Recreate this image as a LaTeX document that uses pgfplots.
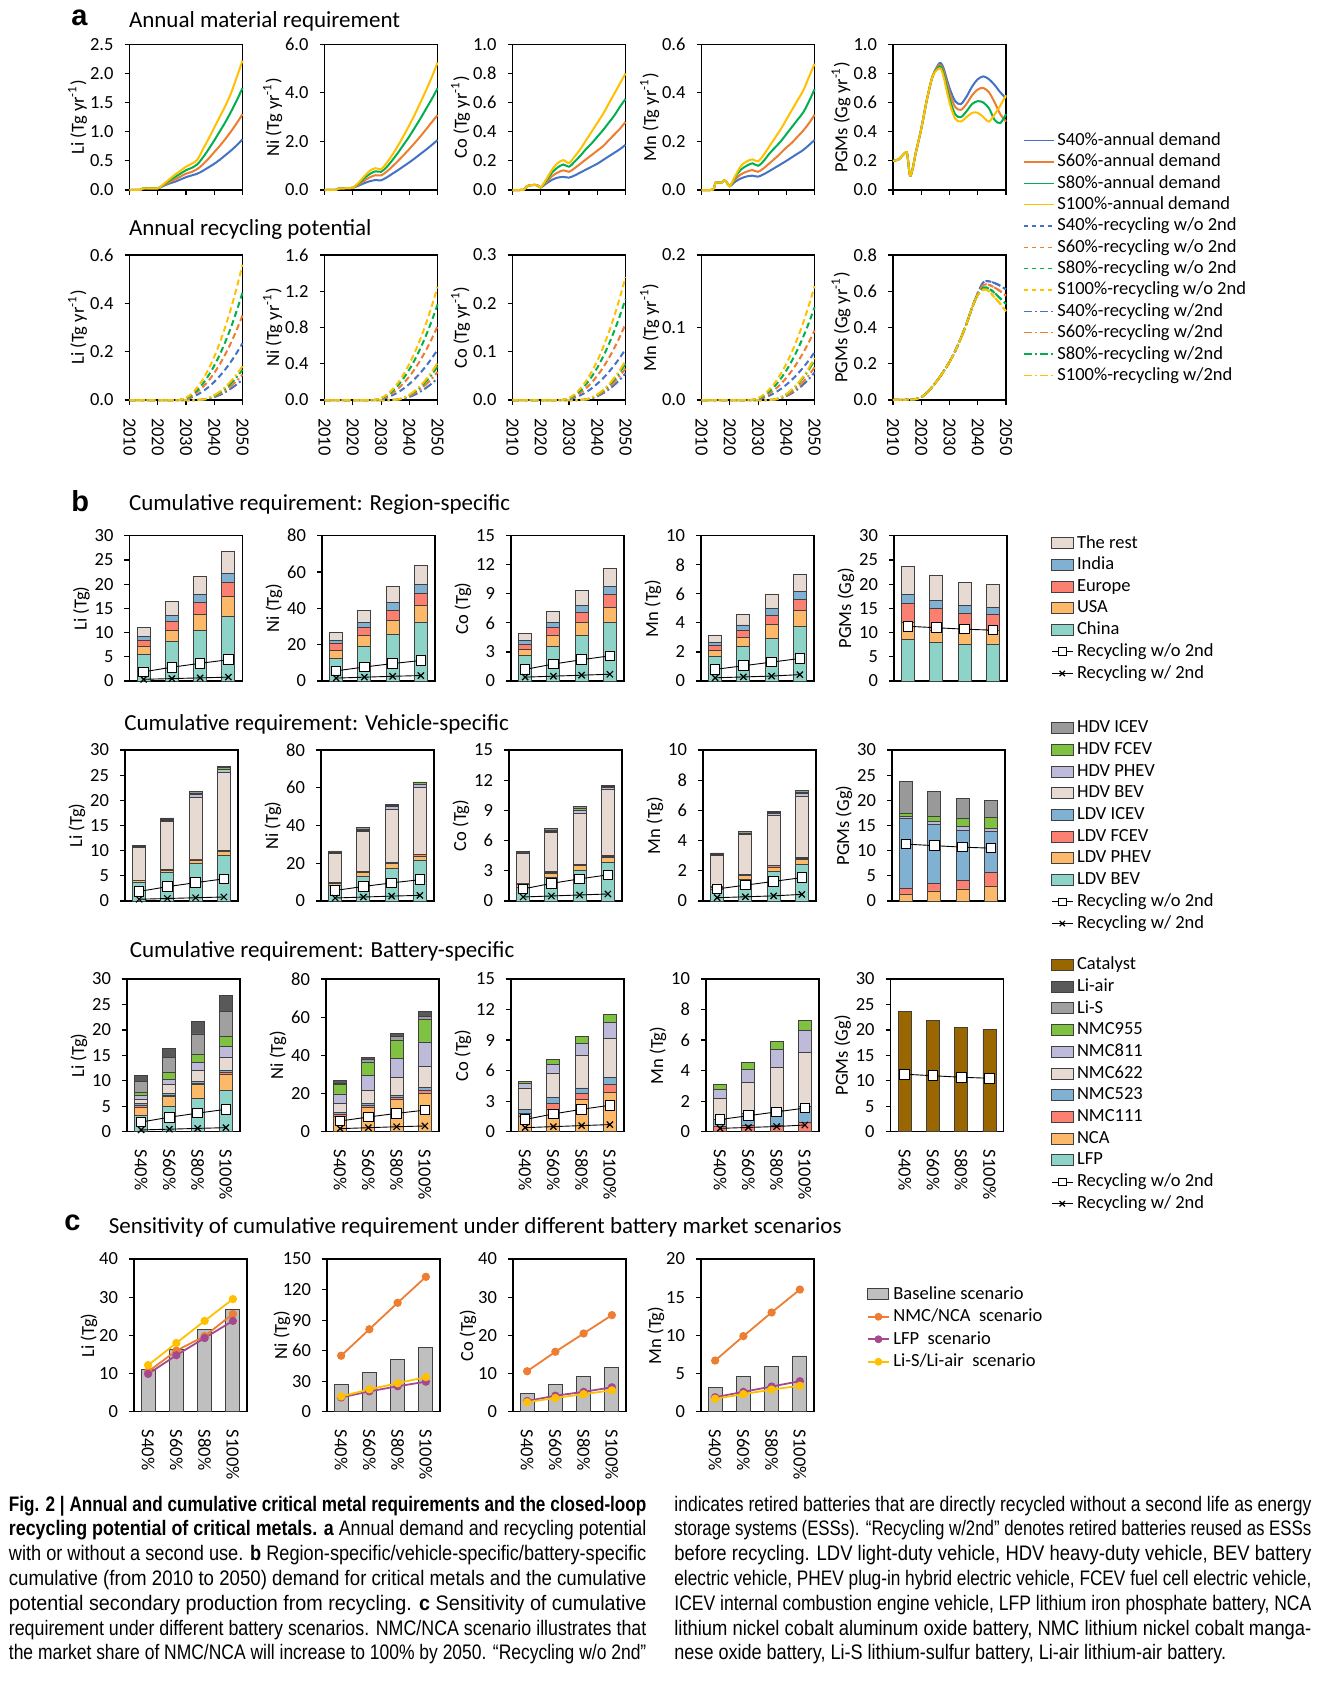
\documentclass[border=0pt]{standalone}
\usepackage{fontspec}
\setmainfont{Carlito}
\newfontfamily\capfont[FakeStretch=0.8]{Liberation Sans}
\newfontfamily\letfont{Liberation Sans}
\usepackage{graphicx}
\usepackage{pgfplots}
\usepackage{pgfplotstable}
\pgfplotsset{compat=1.18}

\definecolor{ablue}{HTML}{4472C4}
\definecolor{aorange}{HTML}{ED7D31}
\definecolor{agreen}{HTML}{00B050}
\definecolor{ayellow}{HTML}{FFC000}
\definecolor{edge}{HTML}{404040}
\definecolor{cchina}{HTML}{8DD3C7}
\definecolor{cusa}{HTML}{FDB96A}
\definecolor{ceurope}{HTML}{FB8072}
\definecolor{cindia}{HTML}{80B1D3}
\definecolor{crest}{HTML}{E7DAD3}
\colorlet{clbev}{cchina}\colorlet{clphev}{cusa}\colorlet{clfcev}{ceurope}\colorlet{clicev}{cindia}
\colorlet{chbev}{crest}
\definecolor{chphev}{HTML}{BEBADA}
\definecolor{chfcev}{HTML}{7FC241}
\definecolor{chicev}{HTML}{999999}
\colorlet{clfp}{cchina}\colorlet{cnca}{cusa}\colorlet{cn111}{ceurope}\colorlet{cn523}{cindia}
\colorlet{cn622}{crest}\colorlet{cn811}{chphev}\colorlet{cn955}{chfcev}
\definecolor{clis}{HTML}{A0A0A0}
\definecolor{cliair}{HTML}{595959}
\definecolor{ccatalyst}{HTML}{996600}
\definecolor{cbase}{HTML}{BFBFBF}
\definecolor{cpurple}{HTML}{A5498F}

\newcommand\tf{\fontsize{9.25}{11}\selectfont}
\newcommand\ttl{\fontsize{11.5}{13}\selectfont}
\newcommand\cf{\capfont\fontsize{10.5}{12}\selectfont}
\newsavebox\capbox
\newcommand\fitline[2]{\sbox\capbox{#2}\pgfmathsetmacro\capr{#1/\the\wd\capbox}\scalebox{\capr}[1]{\usebox\capbox}}

% ---------- annual demand (Tg/yr, Gg/yr for PGMs)
\pgfplotstableread{
year s40 s60 s80 s100
2010 0 0 0 0
2014 0.005 0.005 0.005 0.005
2015 0.03 0.03 0.03 0.03
2020 0.03 0.03 0.03 0.03
2022 0.07 0.08 0.09 0.10
2024 0.11 0.13 0.16 0.18
2026 0.14 0.18 0.22 0.26
2028 0.18 0.23 0.28 0.33
2030 0.22 0.28 0.34 0.40
2032 0.25 0.31 0.38 0.45
2034 0.28 0.36 0.44 0.52
2036 0.33 0.44 0.56 0.70
2038 0.39 0.54 0.70 0.88
2040 0.45 0.65 0.85 1.07
2042 0.52 0.76 1.01 1.26
2044 0.60 0.88 1.17 1.45
2046 0.68 1.01 1.35 1.67
2048 0.77 1.15 1.54 1.94
2050 0.87 1.30 1.75 2.22
}\LiA
\pgfplotstableread{
year s40 s60 s80 s100
2010 0 0 0 0
2014 0.01 0.01 0.01 0.01
2015 0.06 0.06 0.06 0.06
2019 0.08 0.08 0.08 0.08
2020 0.09 0.09 0.09 0.09
2022 0.18 0.22 0.26 0.30
2024 0.28 0.38 0.48 0.56
2026 0.36 0.52 0.66 0.79
2028 0.41 0.61 0.77 0.90
2030 0.40 0.60 0.75 0.86
2032 0.52 0.76 0.95 1.12
2034 0.67 0.97 1.23 1.45
2036 0.82 1.20 1.54 1.83
2038 0.98 1.44 1.87 2.24
2040 1.14 1.69 2.21 2.67
2042 1.31 1.95 2.58 3.13
2044 1.49 2.22 2.96 3.62
2046 1.67 2.51 3.36 4.13
2048 1.86 2.80 3.76 4.66
2050 2.06 3.09 4.19 5.25
}\NiA
\pgfplotstableread{
year s40 s60 s80 s100
2010 0 0 0 0
2014 0.002 0.002 0.002 0.002
2015 0.025 0.025 0.025 0.025
2016 0.032 0.032 0.032 0.032
2018 0.035 0.035 0.035 0.035
2019 0.03 0.03 0.03 0.03
2020 0.018 0.018 0.018 0.018
2022 0.045 0.055 0.065 0.075
2024 0.070 0.095 0.120 0.140
2026 0.085 0.120 0.155 0.185
2028 0.090 0.135 0.175 0.205
2030 0.085 0.125 0.160 0.185
2032 0.100 0.150 0.195 0.230
2034 0.120 0.180 0.235 0.280
2036 0.140 0.210 0.280 0.340
2038 0.160 0.240 0.320 0.400
2040 0.180 0.270 0.365 0.460
2042 0.205 0.300 0.410 0.520
2044 0.230 0.340 0.460 0.590
2046 0.255 0.380 0.510 0.660
2048 0.280 0.420 0.570 0.730
2050 0.310 0.467 0.625 0.800
}\CoA
\pgfplotstableread{
year s40 s60 s80 s100
2010 0 0 0 0
2014 0.002 0.002 0.002 0.002
2015 0.03 0.03 0.03 0.03
2017 0.03 0.03 0.03 0.03
2018 0.04 0.04 0.04 0.04
2019 0.03 0.03 0.03 0.03
2020 0.016 0.016 0.016 0.016
2022 0.035 0.045 0.055 0.060
2024 0.048 0.065 0.085 0.100
2026 0.056 0.076 0.100 0.118
2028 0.059 0.082 0.110 0.126
2030 0.055 0.075 0.100 0.118
2032 0.065 0.090 0.120 0.145
2034 0.078 0.110 0.150 0.180
2036 0.092 0.130 0.175 0.215
2038 0.106 0.152 0.200 0.250
2040 0.120 0.175 0.230 0.290
2042 0.135 0.195 0.260 0.330
2044 0.150 0.220 0.290 0.370
2046 0.165 0.245 0.320 0.410
2048 0.185 0.275 0.365 0.465
2050 0.206 0.310 0.415 0.520
}\MnA
\pgfplotstableread{
year s40 s60 s80 s100
2010 0.20 0.20 0.20 0.20
2012 0.21 0.21 0.21 0.21
2014 0.25 0.25 0.25 0.25
2015 0.25 0.25 0.25 0.25
2016 0.10 0.10 0.10 0.10
2017 0.15 0.15 0.15 0.15
2018 0.25 0.25 0.25 0.25
2020 0.42 0.42 0.42 0.42
2022 0.62 0.62 0.62 0.62
2024 0.78 0.78 0.78 0.78
2026 0.86 0.85 0.84 0.83
2027 0.87 0.855 0.845 0.83
2028 0.83 0.81 0.79 0.77
2030 0.70 0.67 0.63 0.60
2032 0.61 0.57 0.52 0.49
2034 0.59 0.55 0.50 0.47
2036 0.64 0.59 0.54 0.50
2038 0.71 0.65 0.59 0.53
2040 0.76 0.69 0.61 0.53
2042 0.78 0.70 0.60 0.50
2044 0.76 0.67 0.56 0.47
2046 0.72 0.60 0.48 0.52
2048 0.67 0.52 0.46 0.58
2050 0.63 0.47 0.52 0.65
}\PGA

% ---------- annual recycling: d = w/o 2nd use, w = w/ 2nd use
\pgfplotstableread{
year d40 d60 d80 d100 w40 w60 w80 w100
2010 0 0 0 0 0 0 0 0
2026 0 0 0 0 0 0 0 0
2028 0.0004 0.0007 0.0008 0.001 0 0 0 0
2030 0.004 0.006 0.0076 0.0095 0 0 0 0
2032 0.011 0.016 0.021 0.026 0 0 0 0
2034 0.022 0.033 0.041 0.052 0 0 0 0
2036 0.036 0.054 0.068 0.086 0.0013 0.0016 0.002 0.0022
2038 0.054 0.080 0.102 0.128 0.0053 0.0066 0.0078 0.0088
2040 0.075 0.112 0.142 0.179 0.012 0.0148 0.0176 0.0197
2042 0.100 0.149 0.189 0.238 0.021 0.026 0.031 0.035
2044 0.128 0.191 0.243 0.306 0.033 0.041 0.049 0.055
2046 0.160 0.239 0.303 0.382 0.048 0.059 0.070 0.079
2048 0.196 0.292 0.371 0.467 0.065 0.080 0.096 0.107
2050 0.235 0.35 0.445 0.56 0.085 0.105 0.125 0.14
}\LiR
\pgfplotstableread{
year d40 d60 d80 d100 w40 w60 w80 w100
2010 0 0 0 0 0 0 0 0
2026 0 0 0 0 0 0 0 0
2028 0.001 0.0015 0.002 0.0024 0 0 0 0
2030 0.0094 0.0139 0.018 0.021 0 0 0 0
2032 0.026 0.038 0.050 0.059 0 0 0 0
2034 0.052 0.076 0.098 0.116 0 0 0 0
2036 0.085 0.125 0.161 0.191 0.0037 0.0048 0.0058 0.0064
2038 0.127 0.187 0.242 0.286 0.015 0.019 0.023 0.026
2040 0.177 0.260 0.337 0.399 0.034 0.044 0.052 0.058
2042 0.236 0.346 0.448 0.531 0.060 0.078 0.093 0.103
2044 0.303 0.445 0.576 0.683 0.094 0.121 0.145 0.160
2046 0.379 0.556 0.720 0.853 0.135 0.174 0.208 0.231
2048 0.463 0.680 0.880 1.043 0.184 0.237 0.283 0.314
2050 0.555 0.815 1.055 1.25 0.24 0.31 0.37 0.41
}\NiR
\pgfplotstableread{
year d40 d60 d80 d100 w40 w60 w80 w100
2010 0 0 0 0 0 0 0 0
2026 0 0 0 0 0 0 0 0
2028 0.0002 0.0003 0.0004 0.0005 0 0 0 0
2030 0.0018 0.0027 0.0036 0.0043 0 0 0 0
2032 0.0049 0.0074 0.0098 0.0119 0 0 0 0
2034 0.0098 0.0146 0.0194 0.0236 0 0 0 0
2036 0.016 0.024 0.032 0.0389 0.0009 0.001 0.0012 0.0013
2038 0.024 0.036 0.048 0.0582 0.0034 0.0041 0.0047 0.0051
2040 0.0335 0.050 0.0667 0.081 0.0077 0.0091 0.0105 0.0114
2042 0.0446 0.0667 0.0888 0.108 0.0138 0.0163 0.0188 0.0203
2044 0.0573 0.0857 0.114 0.1387 0.0215 0.0254 0.0293 0.0316
2046 0.0716 0.107 0.1425 0.173 0.0309 0.0366 0.0422 0.0456
2048 0.0876 0.131 0.174 0.212 0.0421 0.0498 0.0574 0.062
2050 0.105 0.157 0.209 0.254 0.055 0.065 0.075 0.081
}\CoR
\pgfplotstableread{
year d40 d60 d80 d100 w40 w60 w80 w100
2010 0 0 0 0 0 0 0 0
2026 0 0 0 0 0 0 0 0
2028 0.0001 0.0002 0.0002 0.0003 0 0 0 0
2030 0.0011 0.0016 0.0022 0.0027 0 0 0 0
2032 0.0031 0.0045 0.006 0.0074 0 0 0 0
2034 0.0061 0.0089 0.0119 0.0146 0 0 0 0
2036 0.0101 0.0147 0.0196 0.024 0.0006 0.0007 0.0009 0.0009
2038 0.0151 0.022 0.0293 0.036 0.0024 0.0028 0.0034 0.0036
2040 0.0211 0.0306 0.0408 0.050 0.0053 0.0063 0.0077 0.0082
2042 0.0281 0.0408 0.0544 0.0667 0.0095 0.0113 0.0138 0.0145
2044 0.036 0.0524 0.0699 0.0857 0.0148 0.0176 0.0215 0.0227
2046 0.045 0.0655 0.0873 0.107 0.0214 0.0253 0.0309 0.0326
2048 0.055 0.080 0.1068 0.131 0.0291 0.0345 0.0421 0.0444
2050 0.066 0.096 0.128 0.157 0.038 0.045 0.055 0.058
}\MnR
\pgfplotstableread{
year d40 d60 d80 d100 w40 w60 w80 w100
2010 0 0 0 0 0 0 0 0
2016 0.002 0.002 0.002 0.002 0.002 0.002 0.002 0.002
2018 0.005 0.005 0.005 0.005 0.005 0.005 0.005 0.005
2020 0.015 0.015 0.015 0.015 0.015 0.015 0.015 0.015
2022 0.04 0.04 0.04 0.04 0.04 0.04 0.04 0.04
2024 0.075 0.075 0.075 0.075 0.075 0.075 0.075 0.075
2026 0.115 0.115 0.115 0.115 0.115 0.115 0.115 0.115
2028 0.16 0.16 0.16 0.16 0.16 0.16 0.16 0.16
2030 0.21 0.21 0.21 0.21 0.21 0.21 0.21 0.21
2032 0.27 0.27 0.27 0.27 0.27 0.27 0.27 0.27
2034 0.34 0.34 0.34 0.34 0.34 0.34 0.34 0.34
2036 0.42 0.42 0.42 0.42 0.42 0.42 0.42 0.42
2038 0.51 0.51 0.51 0.51 0.51 0.51 0.51 0.51
2040 0.59 0.585 0.58 0.58 0.59 0.585 0.58 0.58
2042 0.65 0.635 0.62 0.61 0.65 0.635 0.62 0.61
2044 0.655 0.635 0.615 0.60 0.655 0.635 0.615 0.60
2046 0.645 0.62 0.59 0.565 0.645 0.62 0.59 0.565
2048 0.63 0.60 0.56 0.53 0.63 0.60 0.56 0.53
2050 0.61 0.575 0.53 0.49 0.61 0.575 0.53 0.49
}\PGR

% ---------- cumulative, region-specific
\pgfplotstableread{
x china usa europe india rest
0 5.5 1.7 1.2 0.8 1.9
1 8.1 2.4 1.8 1.3 2.8
2 10.5 3.3 2.4 1.7 3.7
3 13.4 4.1 2.8 2.0 4.5
}\LiReg
\pgfplotstableread{
x china usa europe india rest
0 12.5 4.5 3.5 1.8 4.2
1 19.3 5.8 4.4 2.9 6.6
2 25.5 7.6 5.8 4.2 8.9
3 32.5 9.3 6.7 4.6 10.5
}\NiReg
\pgfplotstableread{
x china usa europe india rest
0 2.6 0.7 0.5 0.36 0.77
1 3.57 1.11 0.87 0.52 1.11
2 4.68 1.39 1.03 0.7 1.57
3 6.07 1.56 1.32 0.83 1.82
}\CoReg
\pgfplotstableread{
x china usa europe india rest
0 1.66 0.42 0.39 0.19 0.51
1 2.36 0.64 0.47 0.39 0.74
2 2.96 0.92 0.67 0.42 1.02
3 3.77 1.06 0.81 0.53 1.18
}\MnReg
\pgfplotstableread{
x china usa europe india rest
0 8.6 3.55 3.89 1.91 5.65
1 8.05 2.39 4.58 1.7 5.12
2 7.58 3.0 3.41 1.57 4.78
3 7.58 2.86 3.28 1.5 4.78
}\PGReg

% ---------- cumulative, vehicle-specific
\pgfplotstableread{
x lbev lphev lfcev licev hbev hphev hfcev hicev
0 3.6 0.4 0.05 0.05 6.6 0.15 0.15 0.1
1 5.6 0.5 0.1 0.05 9.5 0.3 0.2 0.25
2 7.4 0.6 0.15 0.05 12.35 0.6 0.25 0.3
3 9.0 0.8 0.2 0.06 15.4 0.75 0.3 0.25
}\LiVeh
\pgfplotstableread{
x lbev lphev lfcev licev hbev hphev hfcev hicev
0 8.5 1.0 0.2 0.1 15.4 0.4 0.4 0.5
1 13.3 1.8 0.4 0.3 21.0 0.8 0.6 0.8
2 17.5 2.2 0.5 0.3 28.2 1.4 0.6 0.6
3 21.5 2.4 0.6 0.3 35.3 1.8 0.7 0.5
}\NiVeh
\pgfplotstableread{
x lbev lphev lfcev licev hbev hphev hfcev hicev
0 1.4 0.25 0.05 0.05 2.95 0.07 0.08 0.05
1 2.3 0.45 0.1 0.05 3.9 0.15 0.1 0.15
2 3.05 0.45 0.1 0.05 5.1 0.3 0.15 0.15
3 3.85 0.5 0.1 0.05 6.55 0.25 0.1 0.1
}\CoVeh
\pgfplotstableread{
x lbev lphev lfcev licev hbev hphev hfcev hicev
0 0.75 0.15 0.03 0.02 2.05 0.06 0.05 0.07
1 1.45 0.25 0.05 0.03 2.6 0.08 0.05 0.07
2 1.95 0.3 0.08 0.03 3.3 0.15 0.05 0.1
3 2.45 0.3 0.08 0.03 4.1 0.17 0.09 0.1
}\MnVeh
\pgfplotstableread{
x lphev lfcev licev hphev hfcev hicev
0 1.4 1.2 13.9 0.3 0.7 6.2
1 2.0 1.5 11.77 0.5 1.0 4.96
2 2.4 1.6 10.1 0.7 1.7 3.9
3 3.0 2.7 8.1 0.65 2.15 3.4
}\PGVeh

% ---------- cumulative, battery-specific
\pgfplotstableread{
x lfp nca n111 n523 n622 n811 n955 lis liair
0 3.3 1.5 0.35 0.45 0.8 0.7 0.6 2.1 1.2
1 4.9 2.0 0.3 0.3 1.7 1.1 1.3 3.0 1.8
2 6.55 2.65 0.3 0.3 2.2 1.6 1.5 4.1 2.4
3 8.05 3.3 0.3 0.35 2.6 2.2 2.0 4.8 3.25
}\LiBat
\pgfplotstableread{
x nca n111 n523 n622 n811 n955 lis liair
0 8.2 0.8 0.9 4.9 5.0 4.9 0.8 1.3
1 12.9 0.9 1.0 6.9 7.7 6.9 1.4 1.4
2 16.9 1.0 1.1 9.2 10.1 9.5 2.1 1.8
3 20.3 1.3 1.4 11.3 12.7 12.0 1.3 2.7
}\NiBat
\pgfplotstableread{
x nca n111 n523 n622 n811 n955
0 1.53 0.27 0.4 2.1 0.43 0.23
1 2.18 0.59 0.56 2.44 0.88 0.49
2 3.16 0.59 0.55 3.17 1.23 0.66
3 3.88 0.75 0.72 3.85 1.53 0.75
}\CoBat
\pgfplotstableread{
x n111 n523 n622 n811 n955
0 0.33 0.5 1.35 0.6 0.32
1 0.44 0.76 2.03 0.87 0.42
2 0.44 0.98 2.79 1.18 0.51
3 0.59 1.05 3.56 1.42 0.65
}\MnBat
\pgfplotstableread{
x catalyst
0 23.7
1 21.8
2 20.4
3 20.1
}\PGBat

% ---------- cumulative recycling
\pgfplotstableread{
x wo w
0 1.9 0.35
1 2.85 0.5
2 3.65 0.65
3 4.4 0.8
}\LiRec
\pgfplotstableread{
x wo w
0 5.6 1.6
1 7.7 2.1
2 9.6 2.6
3 11.3 3.0
}\NiRec
\pgfplotstableread{
x wo w
0 1.2 0.4
1 1.75 0.5
2 2.2 0.6
3 2.6 0.7
}\CoRec
\pgfplotstableread{
x wo w
0 0.8 0.22
1 1.05 0.28
2 1.3 0.34
3 1.55 0.44
}\MnRec
\pgfplotstableread{
x wo w
0 11.3 nan
1 11.0 nan
2 10.7 nan
3 10.5 nan
}\PGRec

% ---------- sensitivity scenarios
\pgfplotstableread{
x base nmc lfp lis
0 11.0 10.5 9.9 12.2
1 16.4 16.0 14.8 18.0
2 21.6 19.8 19.3 23.8
3 26.8 25.6 23.8 29.5
}\LiSen
\pgfplotstableread{
x base nmc lfp lis
0 26.5 55 14 15
1 39 81 20 22
2 51.3 107 25 28
3 63.3 132.5 29.5 34
}\NiSen
\pgfplotstableread{
x base nmc lfp lis
0 4.9 10.6 2.8 2.5
1 7.2 15.7 4.2 3.6
2 9.35 20.5 5.2 4.6
3 11.5 25.3 6.4 5.6
}\CoSen
\pgfplotstableread{
x base nmc lfp lis
0 3.15 6.7 1.9 1.7
1 4.6 9.9 2.6 2.3
2 5.97 13.0 3.3 2.9
3 7.3 16.0 4.0 3.4
}\MnSen

\pgfplotsset{
  common/.style={scale only axis, width=56.5pt, anchor=north west, ymin=0, enlargelimits=false,
    axis line style={line width=0.7pt}, tick align=outside, tick pos=left, major tick length=2.5pt,
    tick style={black, line width=0.6pt},
    ticklabel style={font=\tf}, label style={font=\tf},
    /pgf/number format/assume math mode=true,
    yticklabel shift=2pt,
    ylabel style={at={([xshift=-22.5pt]axis description cs:0,0.5)}, anchor=center}},
  astyle/.style={common, xmin=2010, xmax=2050, xtick={2010,2020,2030,2040,2050}, clip=false,
    yticklabel style={/pgf/number format/.cd, fixed, fixed zerofill, precision=1},
    xticklabel style={/pgf/number format/1000 sep={}},
    ylabel style={at={([xshift=-26pt]axis description cs:0,0.5)}}},
  brow/.style={xticklabels={}},
  bstyle/.style={common, ybar stacked, bar width=6.5pt, xmin=-0.5, xmax=3.5, xtick={0,1,2,3},
    xtick style={draw=none}, brow,
    ylabel style={at={([xshift=-24pt]axis description cs:0,0.5)}}},
  boverlay/.style={scale only axis, width=56.5pt, anchor=north west, hide axis, xmin=-0.5, xmax=3.5,
    ymin=0, enlargelimits=false, clip=false},
  cstyle/.style={common, xmin=-0.5, xmax=3.5, xtick={0,1,2,3}, xtick style={draw=none},
    height=76.35pt, xticklabels={S40\%,S60\%,S80\%,S100\%},
    xticklabel style={rotate=-90, anchor=west}, xticklabel shift=3pt, clip=false},
  s40/.style={ablue, line width=1pt, smooth},
  s60/.style={aorange, line width=1pt, smooth},
  s80/.style={agreen, line width=1pt, smooth},
  s100/.style={ayellow, line width=1pt, smooth},
  dd/.style={dash pattern=on 3pt off 1.8pt},
  ddot/.style={dash pattern=on 4.5pt off 1.5pt on 1pt off 1.5pt},
  recwo/.style={black, line width=0.45pt, mark=square*, mark size=2.4pt,
    mark options={fill=white, draw=black, line width=0.5pt}},
  recw/.style={black, line width=0.45pt, mark=x, mark size=2.2pt, mark options={line width=0.6pt}},
  cl/.style={line width=0.9pt, mark=*, mark size=1.6pt},
  legax/.style={scale only axis, width=2pt, height=2pt, hide axis, anchor=north west,
    xmin=0, xmax=1, ymin=0, ymax=1, legend cell align=left,
    legend style={at={(0,1)}, anchor=north west, draw=none, fill=none, inner sep=0pt,
      outer sep=0pt, row sep=0pt, font=\tf, nodes={inner sep=0pt, outer sep=0pt}}},
  aline/.style={legend image code/.code={\draw[##1] (0pt,0pt) -- (15.35pt,0pt);}},
  bbox/.style={legend image code/.code={\draw[##1, line width=0.5pt] (0pt,-2.75pt) rectangle (10.8pt,2.75pt);}},
  rline/.style={legend image code/.code={\draw[##1, mark repeat=2, mark phase=2]
    plot coordinates {(0pt,0pt) (5.4pt,0pt) (10.8pt,0pt)};}},
  cbox/.style={legend image code/.code={\draw[##1, line width=0.5pt] (0pt,-2.75pt) rectangle (10.5pt,2.75pt);}},
  cline/.style={legend image code/.code={\draw[##1, mark repeat=2, mark phase=2]
    plot coordinates {(0pt,0pt) (5.25pt,0pt) (10.5pt,0pt)};}},
}

\newcommand\aannual[5]{%
\begin{axis}[astyle, at={(#1pt,-22.15pt)}, height=72.85pt, ymax=#2, ytick={#3}, ylabel={#4}, xticklabels={}]
\addplot[s40] table[x=year,y=s40]{#5};
\addplot[s60] table[x=year,y=s60]{#5};
\addplot[s80] table[x=year,y=s80]{#5};
\addplot[s100] table[x=year,y=s100]{#5};
\end{axis}}
\newcommand\arecyc[5]{%
\begin{axis}[astyle, at={(#1pt,-127.5pt)}, height=72.5pt, ymax=#2, ytick={#3}, ylabel={#4},
  xticklabel style={rotate=-90, anchor=west}, xticklabel shift=3pt]
\addplot[s40,ddot] table[x=year,y=w40]{#5};
\addplot[s60,ddot] table[x=year,y=w60]{#5};
\addplot[s80,ddot] table[x=year,y=w80]{#5};
\addplot[s100,ddot] table[x=year,y=w100]{#5};
\addplot[s40,dd] table[x=year,y=d40]{#5};
\addplot[s60,dd] table[x=year,y=d60]{#5};
\addplot[s80,dd] table[x=year,y=d80]{#5};
\addplot[s100,dd] table[x=year,y=d100]{#5};
\end{axis}}
\newcommand\bchart[9]{%
\begin{axis}[bstyle, at={(#1pt,-#2pt)}, height=#3pt, ymax=#4, ytick={#5}, ylabel={#6}]
\pgfplotsinvokeforeach{#8}{\addplot[fill=c##1, draw=edge, line width=0.4pt] table[x=x,y=##1]{#7};}
\end{axis}
\begin{axis}[boverlay, at={(#1pt,-#2pt)}, height=#3pt, ymax=#4]
\addplot[recwo] table[x=x,y=wo]{#9};
\addplot[recw] table[x=x,y=w]{#9};
\end{axis}}
\newcommand\cchart[5]{%
\begin{axis}[cstyle, at={(#1pt,-629.5pt)}, ymax=#2, ytick={#3}, ylabel={#4}]
\addplot[ybar, bar width=7pt, fill=cbase, draw=edge, line width=0.4pt] table[x=x,y=base]{#5};
\addplot[cl, aorange] table[x=x,y=nmc]{#5};
\addplot[cl, cpurple] table[x=x,y=lfp]{#5};
\addplot[cl, ayellow] table[x=x,y=lis]{#5};
\end{axis}}

\begin{document}
\begin{tikzpicture}
\path[use as bounding box] (0,0) rectangle (670.5pt,-841.5pt);

% ---------------- panel a
\aannual{64.75}{2.5}{0,0.5,1,1.5,2,2.5}{Li (Tg yr\textsuperscript{-1})}{\LiA}
\aannual{162.3}{6}{0,2,4,6}{Ni (Tg yr\textsuperscript{-1})}{\NiA}
\aannual{256.25}{1}{0,0.2,0.4,0.6,0.8,1}{Co (Tg yr\textsuperscript{-1})}{\CoA}
\aannual{350.8}{0.6}{0,0.2,0.4,0.6}{Mn (Tg yr\textsuperscript{-1})}{\MnA}
\aannual{446.5}{1}{0,0.2,0.4,0.6,0.8,1}{PGMs (Gg yr\textsuperscript{-1})}{\PGA}
\arecyc{64.75}{0.6}{0,0.2,0.4,0.6}{Li (Tg yr\textsuperscript{-1})}{\LiR}
\arecyc{162.3}{1.6}{0,0.4,0.8,1.2,1.6}{Ni (Tg yr\textsuperscript{-1})}{\NiR}
\arecyc{256.25}{0.3}{0,0.1,0.2,0.3}{Co (Tg yr\textsuperscript{-1})}{\CoR}
\arecyc{350.8}{0.2}{0,0.1,0.2}{Mn (Tg yr\textsuperscript{-1})}{\MnR}
\arecyc{446.5}{0.8}{0,0.2,0.4,0.6,0.8}{PGMs (Gg yr\textsuperscript{-1})}{\PGR}

\begin{axis}[legax, at={(511.5pt,-65pt)},
  legend style={nodes={minimum height=10.67pt}, /tikz/every odd column/.style={column sep=1.15pt}}]
\addlegendimage{aline, ablue, line width=0.7pt}\addlegendentry{S40\%-annual demand}
\addlegendimage{aline, aorange, line width=0.7pt}\addlegendentry{S60\%-annual demand}
\addlegendimage{aline, agreen, line width=0.7pt}\addlegendentry{S80\%-annual demand}
\addlegendimage{aline, ayellow, line width=0.7pt}\addlegendentry{S100\%-annual demand}
\addlegendimage{aline, ablue, line width=0.7pt, dash pattern=on 2.2pt off 1.8pt}\addlegendentry{S40\%-recycling w/o 2nd}
\addlegendimage{aline, aorange, line width=0.7pt, dash pattern=on 2.2pt off 1.8pt}\addlegendentry{S60\%-recycling w/o 2nd}
\addlegendimage{aline, agreen, line width=0.7pt, dash pattern=on 2.2pt off 1.8pt}\addlegendentry{S80\%-recycling w/o 2nd}
\addlegendimage{aline, ayellow, line width=0.7pt, dash pattern=on 2.2pt off 1.8pt}\addlegendentry{S100\%-recycling w/o 2nd}
\addlegendimage{aline, ablue, line width=0.7pt, dash pattern=on 4pt off 1.5pt on 1pt off 1.5pt}\addlegendentry{S40\%-recycling w/2nd}
\addlegendimage{aline, aorange, line width=0.7pt, dash pattern=on 4pt off 1.5pt on 1pt off 1.5pt}\addlegendentry{S60\%-recycling w/2nd}
\addlegendimage{aline, agreen, line width=0.7pt, dash pattern=on 4pt off 1.5pt on 1pt off 1.5pt}\addlegendentry{S80\%-recycling w/2nd}
\addlegendimage{aline, ayellow, line width=0.7pt, dash pattern=on 4pt off 1.5pt on 1pt off 1.5pt}\addlegendentry{S100\%-recycling w/2nd}
\end{axis}

% ---------------- panel b, region
\bchart{64.75}{267.85}{72.65}{30}{0,5,...,30}{Li (Tg)}{\LiReg}{china,usa,europe,india,rest}{\LiRec}
\bchart{161}{267.85}{72.65}{80}{0,20,...,80}{Ni (Tg)}{\NiReg}{china,usa,europe,india,rest}{\NiRec}
\bchart{255.5}{267.85}{72.65}{15}{0,3,...,15}{Co (Tg)}{\CoReg}{china,usa,europe,india,rest}{\CoRec}
\bchart{350.5}{267.85}{72.65}{10}{0,2,...,10}{Mn (Tg)}{\MnReg}{china,usa,europe,india,rest}{\MnRec}
\bchart{447}{267.85}{72.65}{30}{0,5,...,30}{PGMs (Gg)}{\PGReg}{china,usa,europe,india,rest}{\PGRec}

\begin{axis}[legax, at={(525.5pt,-266.2pt)},
  legend style={nodes={minimum height=10.85pt}, /tikz/every odd column/.style={column sep=1.7pt}}]
\addlegendimage{bbox, fill=crest, draw=edge}\addlegendentry{The rest}
\addlegendimage{bbox, fill=cindia, draw=edge}\addlegendentry{India}
\addlegendimage{bbox, fill=ceurope, draw=edge}\addlegendentry{Europe}
\addlegendimage{bbox, fill=cusa, draw=edge}\addlegendentry{USA}
\addlegendimage{bbox, fill=cchina, draw=edge}\addlegendentry{China}
\addlegendimage{rline, recwo, mark size=1.9pt}\addlegendentry{Recycling w/o 2nd}
\addlegendimage{rline, recw, mark size=1.9pt}\addlegendentry{Recycling w/ 2nd}
\end{axis}

% ---------------- panel b, vehicle
\bchart{62.5}{375}{75.5}{30}{0,5,...,30}{Li (Tg)}{\LiVeh}{lbev,lphev,lfcev,licev,hbev,hphev,hfcev,hicev}{\LiRec}
\bchart{160.5}{375}{75.5}{80}{0,20,...,80}{Ni (Tg)}{\NiVeh}{lbev,lphev,lfcev,licev,hbev,hphev,hfcev,hicev}{\NiRec}
\bchart{254.5}{375}{75.5}{15}{0,3,...,15}{Co (Tg)}{\CoVeh}{lbev,lphev,lfcev,licev,hbev,hphev,hfcev,hicev}{\CoRec}
\bchart{351.5}{375}{75.5}{10}{0,2,...,10}{Mn (Tg)}{\MnVeh}{lbev,lphev,lfcev,licev,hbev,hphev,hfcev,hicev}{\MnRec}
\bchart{446}{375}{75.5}{30}{0,5,...,30}{PGMs (Gg)}{\PGVeh}{lphev,lfcev,licev,hphev,hfcev,hicev}{\PGRec}

\begin{axis}[legax, at={(525.5pt,-358.7pt)},
  legend style={nodes={minimum height=10.85pt}, /tikz/every odd column/.style={column sep=1.7pt}}]
\addlegendimage{bbox, fill=chicev, draw=edge}\addlegendentry{HDV ICEV}
\addlegendimage{bbox, fill=chfcev, draw=edge}\addlegendentry{HDV FCEV}
\addlegendimage{bbox, fill=chphev, draw=edge}\addlegendentry{HDV PHEV}
\addlegendimage{bbox, fill=chbev, draw=edge}\addlegendentry{HDV BEV}
\addlegendimage{bbox, fill=clicev, draw=edge}\addlegendentry{LDV ICEV}
\addlegendimage{bbox, fill=clfcev, draw=edge}\addlegendentry{LDV FCEV}
\addlegendimage{bbox, fill=clphev, draw=edge}\addlegendentry{LDV PHEV}
\addlegendimage{bbox, fill=clbev, draw=edge}\addlegendentry{LDV BEV}
\addlegendimage{rline, recwo, mark size=1.9pt}\addlegendentry{Recycling w/o 2nd}
\addlegendimage{rline, recw, mark size=1.9pt}\addlegendentry{Recycling w/ 2nd}
\end{axis}

% ---------------- panel b, battery
\pgfplotsset{brow/.style={xticklabels={S40\%,S60\%,S80\%,S100\%}, xticklabel style={rotate=-90, anchor=west}, xticklabel shift=3pt}}
\bchart{63.5}{489.5}{76.35}{30}{0,5,...,30}{Li (Tg)}{\LiBat}{lfp,nca,n111,n523,n622,n811,n955,lis,liair}{\LiRec}
\bchart{163}{489.5}{76.35}{80}{0,20,...,80}{Ni (Tg)}{\NiBat}{nca,n111,n523,n622,n811,n955,lis,liair}{\NiRec}
\bchart{255.5}{489.5}{76.35}{15}{0,3,...,15}{Co (Tg)}{\CoBat}{nca,n111,n523,n622,n811,n955}{\CoRec}
\bchart{353}{489.5}{76.35}{10}{0,2,...,10}{Mn (Tg)}{\MnBat}{n111,n523,n622,n811,n955}{\MnRec}
\bchart{445.3}{489.5}{76.35}{30}{0,5,...,30}{PGMs (Gg)}{\PGBat}{catalyst}{\PGRec}

\begin{axis}[legax, at={(525.5pt,-477.1pt)},
  legend style={nodes={minimum height=10.85pt}, /tikz/every odd column/.style={column sep=1.7pt}}]
\addlegendimage{bbox, fill=ccatalyst, draw=edge}\addlegendentry{Catalyst}
\addlegendimage{bbox, fill=cliair, draw=edge}\addlegendentry{Li-air}
\addlegendimage{bbox, fill=clis, draw=edge}\addlegendentry{Li-S}
\addlegendimage{bbox, fill=cn955, draw=edge}\addlegendentry{NMC955}
\addlegendimage{bbox, fill=cn811, draw=edge}\addlegendentry{NMC811}
\addlegendimage{bbox, fill=cn622, draw=edge}\addlegendentry{NMC622}
\addlegendimage{bbox, fill=cn523, draw=edge}\addlegendentry{NMC523}
\addlegendimage{bbox, fill=cn111, draw=edge}\addlegendentry{NMC111}
\addlegendimage{bbox, fill=cnca, draw=edge}\addlegendentry{NCA}
\addlegendimage{bbox, fill=clfp, draw=edge}\addlegendentry{LFP}
\addlegendimage{rline, recwo, mark size=1.9pt}\addlegendentry{Recycling w/o 2nd}
\addlegendimage{rline, recw, mark size=1.9pt}\addlegendentry{Recycling w/ 2nd}
\end{axis}

% ---------------- panel c
\cchart{67}{40}{0,10,20,30,40}{Li (Tg)}{\LiSen}
\cchart{163.5}{150}{0,30,60,90,120,150}{Ni (Tg)}{\NiSen}
\cchart{256.5}{40}{0,10,20,30,40}{Co (Tg)}{\CoSen}
\cchart{350.5}{20}{0,5,10,15,20}{Mn (Tg)}{\MnSen}

\begin{axis}[legax, at={(433.5pt,-641.5pt)},
  legend style={nodes={minimum height=11.25pt}, /tikz/every odd column/.style={column sep=1.8pt}}]
\addlegendimage{cbox, fill=cbase, draw=edge}\addlegendentry{Baseline scenario}
\addlegendimage{cline, aorange, line width=0.9pt, mark=*, mark size=1.5pt}\addlegendentry{NMC/NCA~ scenario}
\addlegendimage{cline, cpurple, line width=0.9pt, mark=*, mark size=1.5pt}\addlegendentry{LFP~ scenario}
\addlegendimage{cline, ayellow, line width=0.9pt, mark=*, mark size=1.5pt}\addlegendentry{Li-S/Li-air~ scenario}
\end{axis}

% ---------------- titles and panel letters
\begin{scope}[every node/.style={anchor=base west, inner sep=0pt}]
\node[font=\letfont\bfseries\fontsize{14.5}{16}\selectfont] at (35.5pt,-12.5pt) {a};
\node[font=\letfont\bfseries\fontsize{14.5}{16}\selectfont] at (35.5pt,-255.85pt) {b};
\node[font=\letfont\bfseries\fontsize{14.5}{16}\selectfont] at (32pt,-615pt) {c};
\node[font=\ttl] at (64.3pt,-13.65pt) {Annual material requirement};
\node[font=\ttl] at (64.3pt,-117.5pt) {Annual recycling potential};
\node[font=\ttl] at (64.3pt,-255pt) {Cumulative requirement: Region-specific};
\node[font=\ttl] at (62pt,-365pt) {Cumulative requirement: Vehicle-specific};
\node[font=\ttl] at (64.75pt,-478.75pt) {Cumulative requirement: Battery-specific};
\node[font=\ttl] at (54.2pt,-616.5pt) {Sensitivity of cumulative requirement under different battery market scenarios};

% ---------------- caption
\node at (4.25pt,-755.5pt) {\cf\fitline{318.75}{\bfseries Fig. 2 | Annual and cumulative critical metal requirements and the closed-loop}};
\node at (4.25pt,-767.9pt) {\cf\fitline{318.75}{{\bfseries recycling potential of critical metals. a} Annual demand and recycling potential}};
\node at (4.25pt,-780.3pt) {\cf\fitline{318.75}{with or without a second use. {\bfseries b} Region-specific/vehicle-specific/battery-specific}};
\node at (4.25pt,-792.7pt) {\cf\fitline{318.75}{cumulative (from 2010 to 2050) demand for critical metals and the cumulative}};
\node at (4.25pt,-805.1pt) {\cf\fitline{318.75}{potential secondary production from recycling. {\bfseries c} Sensitivity of cumulative}};
\node at (4.25pt,-817.5pt) {\cf\fitline{318.75}{requirement under different battery scenarios. NMC/NCA scenario illustrates that}};
\node at (4.25pt,-829.9pt) {\cf\fitline{318.75}{the market share of NMC/NCA will increase to 100\% by 2050. “Recycling w/o 2nd”}};
\node at (337pt,-755.5pt) {\cf\fitline{318.5}{indicates retired batteries that are directly recycled without a second life as energy}};
\node at (337pt,-767.9pt) {\cf\fitline{318.5}{storage systems (ESSs). “Recycling w/2nd” denotes retired batteries reused as ESSs}};
\node at (337pt,-780.3pt) {\cf\fitline{318.5}{before recycling. LDV light-duty vehicle, HDV heavy-duty vehicle, BEV battery}};
\node at (337pt,-792.7pt) {\cf\fitline{318.5}{electric vehicle, PHEV plug-in hybrid electric vehicle, FCEV fuel cell electric vehicle,}};
\node at (337pt,-805.1pt) {\cf\fitline{318.5}{ICEV internal combustion engine vehicle, LFP lithium iron phosphate battery, NCA}};
\node at (337pt,-817.5pt) {\cf\fitline{318.5}{lithium nickel cobalt aluminum oxide battery, NMC lithium nickel cobalt manga-}};
\node at (337pt,-829.9pt) {\cf\fitline{275.9}{nese oxide battery, Li-S lithium-sulfur battery, Li-air lithium-air battery.}};
\end{scope}
\end{tikzpicture}
\end{document}
